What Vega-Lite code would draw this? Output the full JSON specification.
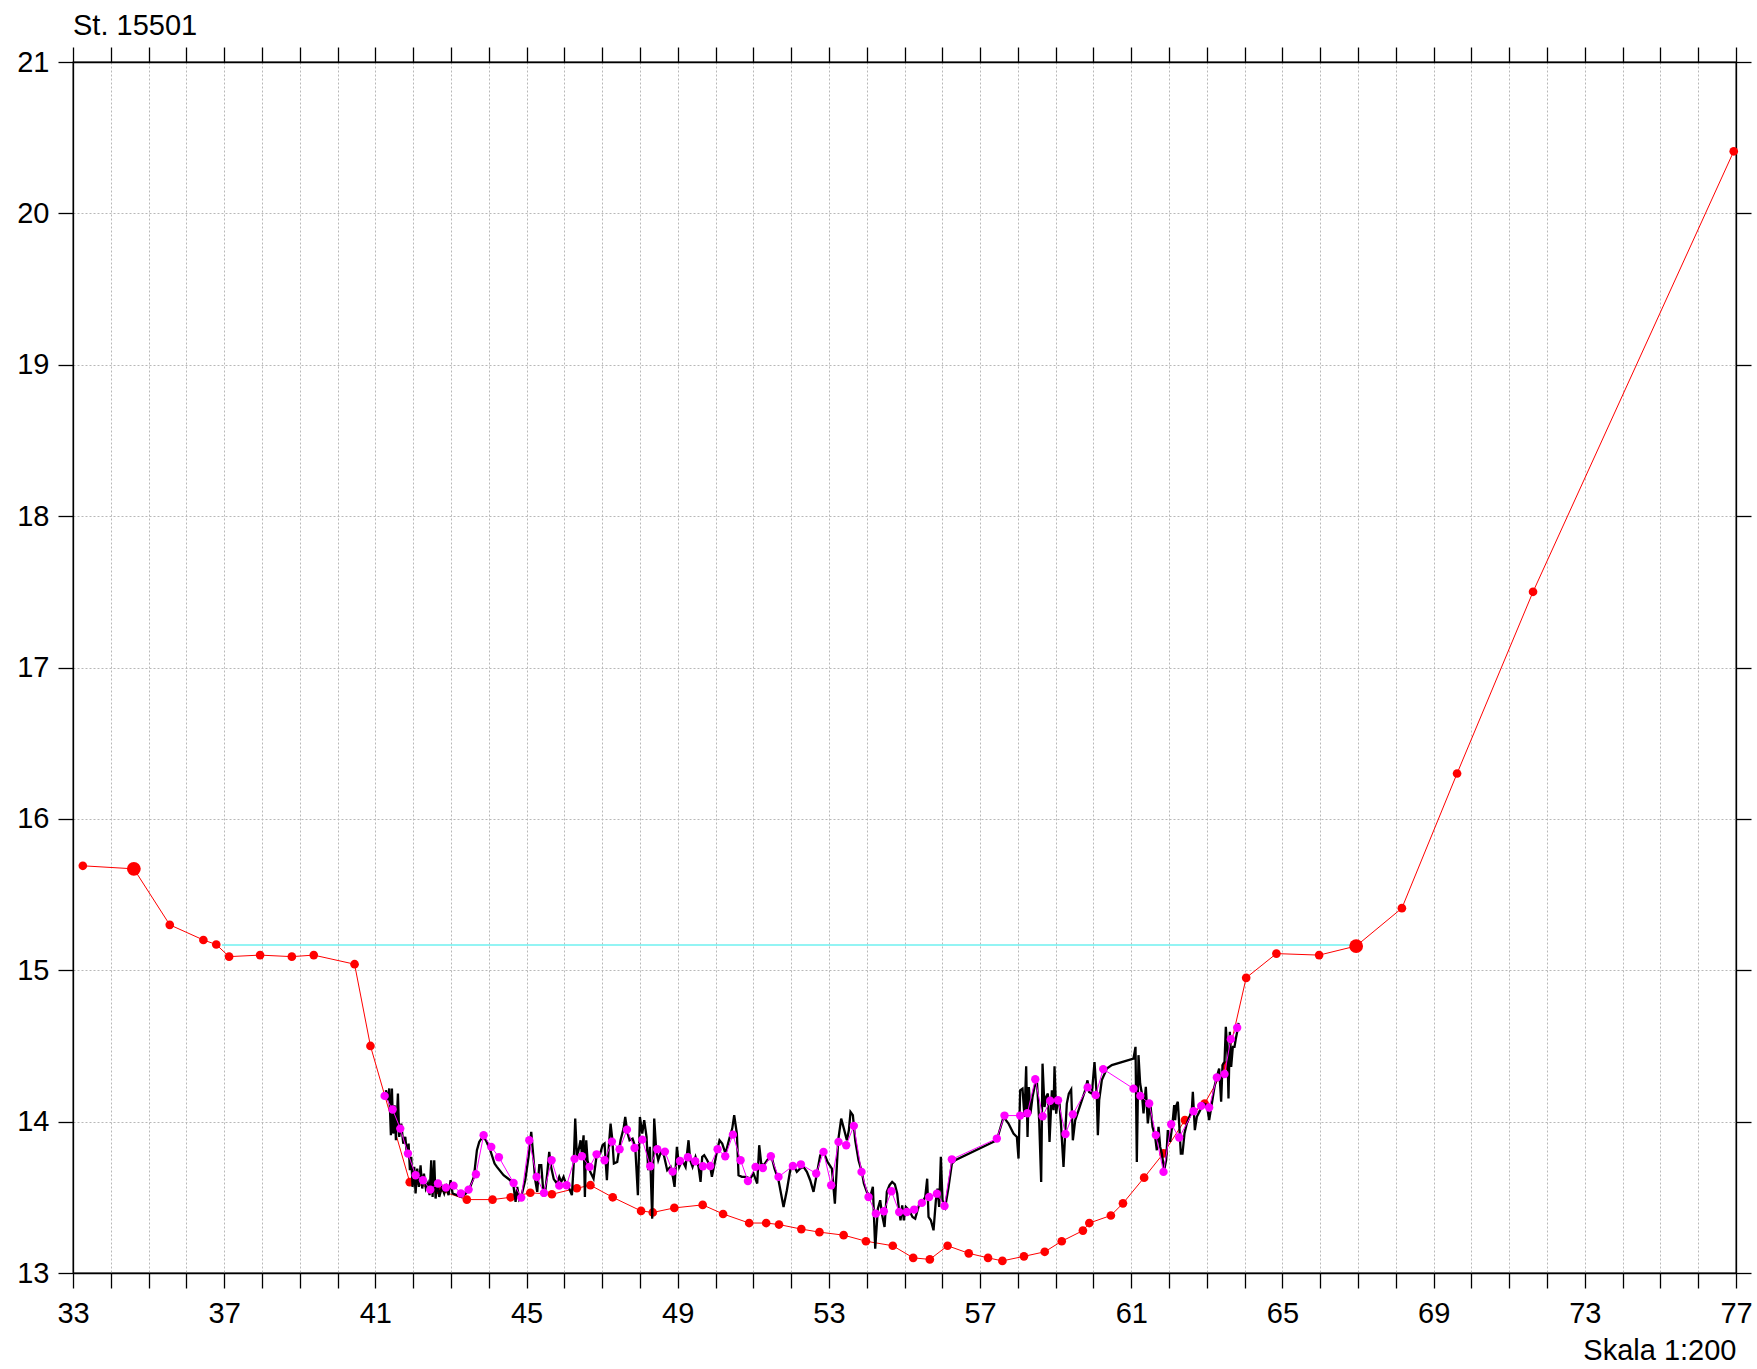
{
  "$schema": "https://vega.github.io/schema/vega-lite/v6.json",
  "width": 1663,
  "height": 1211,
  "autosize": "none",
  "padding": {"left": 73, "top": 62, "right": 21, "bottom": 96},
  "background": "white",
  "title": {"text": "St. 15501", "anchor": "start", "frame": "group", "font": "Liberation Sans", "fontSize": 29, "fontWeight": "normal", "color": "#000", "baseline": "alphabetic", "offset": -18},
  "config": {
    "view": {"stroke": "#000", "strokeWidth": 1.3},
    "axis": {"labelFont": "Liberation Sans", "labelFontSize": 29, "labelColor": "#000", "tickColor": "#000", "tickWidth": 1.3, "domainColor": "#000", "domainWidth": 1.3, "tickSize": 15}
  },
  "datasets": {
    "cyan": [{"x": 36.94, "y": 15.166}, {"x": 66.95, "y": 15.166}],
    "red": [
      {"x": 33.26, "y": 15.69}, {"x": 34.61, "y": 15.67}, {"x": 35.56, "y": 15.30}, {"x": 36.45, "y": 15.20}, {"x": 36.79, "y": 15.17},
      {"x": 37.13, "y": 15.09}, {"x": 37.95, "y": 15.10}, {"x": 38.79, "y": 15.09}, {"x": 39.37, "y": 15.10}, {"x": 40.45, "y": 15.04},
      {"x": 40.87, "y": 14.50}, {"x": 41.91, "y": 13.60}, {"x": 42.65, "y": 13.55}, {"x": 43.42, "y": 13.485}, {"x": 44.10, "y": 13.485},
      {"x": 44.58, "y": 13.50}, {"x": 45.10, "y": 13.53}, {"x": 45.67, "y": 13.52}, {"x": 46.33, "y": 13.56}, {"x": 46.69, "y": 13.58},
      {"x": 47.28, "y": 13.50}, {"x": 48.03, "y": 13.41}, {"x": 48.34, "y": 13.40}, {"x": 48.91, "y": 13.43}, {"x": 49.66, "y": 13.45},
      {"x": 50.20, "y": 13.39}, {"x": 50.89, "y": 13.33}, {"x": 51.34, "y": 13.33}, {"x": 51.68, "y": 13.32}, {"x": 52.27, "y": 13.29},
      {"x": 52.75, "y": 13.27}, {"x": 53.39, "y": 13.25}, {"x": 53.98, "y": 13.21}, {"x": 54.69, "y": 13.18}, {"x": 55.23, "y": 13.10},
      {"x": 55.67, "y": 13.09}, {"x": 56.14, "y": 13.18}, {"x": 56.70, "y": 13.13}, {"x": 57.21, "y": 13.10}, {"x": 57.59, "y": 13.08},
      {"x": 58.16, "y": 13.11}, {"x": 58.71, "y": 13.14}, {"x": 59.16, "y": 13.21}, {"x": 59.72, "y": 13.28}, {"x": 59.89, "y": 13.33},
      {"x": 60.46, "y": 13.38}, {"x": 60.78, "y": 13.46}, {"x": 61.34, "y": 13.63}, {"x": 61.85, "y": 13.79}, {"x": 62.42, "y": 14.01},
      {"x": 62.94, "y": 14.12}, {"x": 63.51, "y": 14.37}, {"x": 64.04, "y": 14.95}, {"x": 64.84, "y": 15.11}, {"x": 65.97, "y": 15.10},
      {"x": 66.95, "y": 15.16}, {"x": 68.16, "y": 15.41}, {"x": 69.62, "y": 16.30}, {"x": 71.63, "y": 17.50}, {"x": 76.94, "y": 20.41}
    ],
    "big": [{"x": 34.61, "y": 15.67}, {"x": 66.95, "y": 15.16}],
    "black": [
      {"x": 41.279, "y": 14.208}, {"x": 41.332, "y": 14.141}, {"x": 41.367, "y": 14.219}, {"x": 41.411, "y": 13.910}, {"x": 41.438, "y": 14.219},
      {"x": 41.473, "y": 13.921}, {"x": 41.508, "y": 14.108}, {"x": 41.544, "y": 13.877}, {"x": 41.597, "y": 14.185}, {"x": 41.632, "y": 13.899},
      {"x": 41.685, "y": 13.987}, {"x": 41.738, "y": 13.855}, {"x": 41.791, "y": 13.899}, {"x": 41.835, "y": 13.789}, {"x": 41.879, "y": 13.855},
      {"x": 41.914, "y": 13.679}, {"x": 41.949, "y": 13.767}, {"x": 41.985, "y": 13.569}, {"x": 42.029, "y": 13.701}, {"x": 42.064, "y": 13.525},
      {"x": 42.108, "y": 13.690}, {"x": 42.152, "y": 13.569}, {"x": 42.196, "y": 13.712}, {"x": 42.240, "y": 13.558}, {"x": 42.285, "y": 13.657},
      {"x": 42.337, "y": 13.558}, {"x": 42.390, "y": 13.591}, {"x": 42.434, "y": 13.514}, {"x": 42.478, "y": 13.745}, {"x": 42.514, "y": 13.503},
      {"x": 42.558, "y": 13.745}, {"x": 42.593, "y": 13.492}, {"x": 42.646, "y": 13.613}, {"x": 42.690, "y": 13.503}, {"x": 42.761, "y": 13.569},
      {"x": 42.822, "y": 13.525}, {"x": 42.875, "y": 13.569}, {"x": 42.937, "y": 13.514}, {"x": 42.990, "y": 13.613}, {"x": 43.043, "y": 13.525},
      {"x": 43.158, "y": 13.514}, {"x": 43.272, "y": 13.503}, {"x": 43.396, "y": 13.525}, {"x": 43.510, "y": 13.569}, {"x": 43.607, "y": 13.635},
      {"x": 43.687, "y": 13.811}, {"x": 43.748, "y": 13.866}, {"x": 43.837, "y": 13.899}, {"x": 43.925, "y": 13.877}, {"x": 44.039, "y": 13.811},
      {"x": 44.154, "y": 13.723}, {"x": 44.216, "y": 13.701}, {"x": 44.392, "y": 13.646}, {"x": 44.568, "y": 13.613}, {"x": 44.657, "y": 13.569},
      {"x": 44.710, "y": 13.470}, {"x": 44.754, "y": 13.569}, {"x": 44.807, "y": 13.485}, {"x": 44.859, "y": 13.503}, {"x": 44.965, "y": 13.613},
      {"x": 45.053, "y": 13.767}, {"x": 45.124, "y": 13.932}, {"x": 45.177, "y": 13.778}, {"x": 45.230, "y": 13.613}, {"x": 45.283, "y": 13.536},
      {"x": 45.336, "y": 13.712}, {"x": 45.389, "y": 13.712}, {"x": 45.441, "y": 13.547}, {"x": 45.494, "y": 13.536}, {"x": 45.547, "y": 13.657},
      {"x": 45.600, "y": 13.800}, {"x": 45.650, "y": 13.700}, {"x": 45.720, "y": 13.620},
      {"x": 45.803, "y": 13.591}, {"x": 45.865, "y": 13.635}, {"x": 45.918, "y": 13.602}, {"x": 45.979, "y": 13.635}, {"x": 46.041, "y": 13.591},
      {"x": 46.129, "y": 13.558}, {"x": 46.200, "y": 13.514}, {"x": 46.244, "y": 13.701}, {"x": 46.288, "y": 14.020}, {"x": 46.332, "y": 13.767},
      {"x": 46.376, "y": 13.811}, {"x": 46.429, "y": 13.877}, {"x": 46.464, "y": 13.789}, {"x": 46.509, "y": 13.910}, {"x": 46.544, "y": 13.503},
      {"x": 46.579, "y": 13.877}, {"x": 46.614, "y": 13.745}, {"x": 46.685, "y": 13.668}, {"x": 46.773, "y": 13.624}, {"x": 46.861, "y": 13.789},
      {"x": 46.949, "y": 13.789}, {"x": 47.011, "y": 13.844}, {"x": 47.064, "y": 13.855}, {"x": 47.126, "y": 13.613}, {"x": 47.170, "y": 13.811},
      {"x": 47.223, "y": 13.987}, {"x": 47.267, "y": 13.888}, {"x": 47.311, "y": 13.723}, {"x": 47.399, "y": 13.734}, {"x": 47.487, "y": 13.877},
      {"x": 47.567, "y": 13.954}, {"x": 47.611, "y": 14.031}, {"x": 47.664, "y": 13.932}, {"x": 47.726, "y": 13.877}, {"x": 47.805, "y": 13.888},
      {"x": 47.876, "y": 13.833}, {"x": 47.946, "y": 13.514}, {"x": 47.999, "y": 14.031}, {"x": 48.061, "y": 13.921}, {"x": 48.113, "y": 14.009},
      {"x": 48.175, "y": 13.899}, {"x": 48.219, "y": 13.679}, {"x": 48.263, "y": 13.833}, {"x": 48.325, "y": 13.359}, {"x": 48.378, "y": 14.020},
      {"x": 48.431, "y": 13.811}, {"x": 48.484, "y": 13.745}, {"x": 48.554, "y": 13.800}, {"x": 48.634, "y": 13.778}, {"x": 48.722, "y": 13.679},
      {"x": 48.810, "y": 13.701}, {"x": 48.872, "y": 13.635}, {"x": 48.916, "y": 13.569}, {"x": 48.978, "y": 13.833}, {"x": 49.039, "y": 13.701},
      {"x": 49.119, "y": 13.745}, {"x": 49.207, "y": 13.701}, {"x": 49.286, "y": 13.877}, {"x": 49.330, "y": 13.745}, {"x": 49.392, "y": 13.701},
      {"x": 49.471, "y": 13.767}, {"x": 49.551, "y": 13.701}, {"x": 49.604, "y": 13.602}, {"x": 49.648, "y": 13.767}, {"x": 49.701, "y": 13.778},
      {"x": 49.780, "y": 13.745}, {"x": 49.860, "y": 13.701}, {"x": 49.904, "y": 13.635}, {"x": 49.957, "y": 13.701}, {"x": 50.045, "y": 13.811},
      {"x": 50.106, "y": 13.877}, {"x": 50.177, "y": 13.855}, {"x": 50.265, "y": 13.789}, {"x": 50.353, "y": 13.877}, {"x": 50.442, "y": 13.954},
      {"x": 50.494, "y": 14.042},
      {"x": 50.565, "y": 13.921}, {"x": 50.609, "y": 13.646}, {"x": 50.697, "y": 13.635}, {"x": 50.803, "y": 13.635}, {"x": 50.918, "y": 13.624},
      {"x": 51.006, "y": 13.657}, {"x": 51.103, "y": 13.591}, {"x": 51.156, "y": 13.844}, {"x": 51.209, "y": 13.723}, {"x": 51.279, "y": 13.712},
      {"x": 51.368, "y": 13.745}, {"x": 51.473, "y": 13.778}, {"x": 51.562, "y": 13.690}, {"x": 51.667, "y": 13.613}, {"x": 51.800, "y": 13.436},
      {"x": 51.888, "y": 13.547}, {"x": 51.976, "y": 13.679}, {"x": 52.064, "y": 13.712}, {"x": 52.152, "y": 13.668}, {"x": 52.241, "y": 13.690},
      {"x": 52.329, "y": 13.701}, {"x": 52.417, "y": 13.668}, {"x": 52.505, "y": 13.613}, {"x": 52.593, "y": 13.536}, {"x": 52.682, "y": 13.657},
      {"x": 52.770, "y": 13.778}, {"x": 52.858, "y": 13.800}, {"x": 52.964, "y": 13.734}, {"x": 53.079, "y": 13.690}, {"x": 53.158, "y": 13.458},
      {"x": 53.246, "y": 13.877}, {"x": 53.325, "y": 14.020}, {"x": 53.396, "y": 13.954}, {"x": 53.475, "y": 13.877}, {"x": 53.528, "y": 13.943},
      {"x": 53.572, "y": 14.064}, {"x": 53.634, "y": 14.042}, {"x": 53.696, "y": 13.877}, {"x": 53.784, "y": 13.745}, {"x": 53.872, "y": 13.668},
      {"x": 53.925, "y": 13.591}, {"x": 54.004, "y": 13.536}, {"x": 54.093, "y": 13.503}, {"x": 54.163, "y": 13.569}, {"x": 54.225, "y": 13.161},
      {"x": 54.295, "y": 13.425}, {"x": 54.357, "y": 13.481}, {"x": 54.410, "y": 13.381}, {"x": 54.472, "y": 13.304}, {"x": 54.533, "y": 13.536},
      {"x": 54.604, "y": 13.580}, {"x": 54.674, "y": 13.602}, {"x": 54.745, "y": 13.586}, {"x": 54.807, "y": 13.525}, {"x": 54.851, "y": 13.425},
      {"x": 54.895, "y": 13.348}, {"x": 54.939, "y": 13.447}, {"x": 54.983, "y": 13.348}, {"x": 55.036, "y": 13.436}, {"x": 55.124, "y": 13.414},
      {"x": 55.212, "y": 13.370}, {"x": 55.283, "y": 13.359},
      {"x": 55.389, "y": 13.454}, {"x": 55.477, "y": 13.469}, {"x": 55.548, "y": 13.502}, {"x": 55.600, "y": 13.623}, {"x": 55.636, "y": 13.370},
      {"x": 55.697, "y": 13.348}, {"x": 55.768, "y": 13.282}, {"x": 55.830, "y": 13.480}, {"x": 55.874, "y": 13.557}, {"x": 55.918, "y": 13.436},
      {"x": 55.962, "y": 13.767}, {"x": 56.006, "y": 13.480}, {"x": 56.077, "y": 13.436}, {"x": 56.165, "y": 13.568}, {"x": 56.253, "y": 13.722},
      {"x": 56.341, "y": 13.745}, {"x": 57.443, "y": 13.877}, {"x": 57.620, "y": 14.031}, {"x": 57.752, "y": 13.987}, {"x": 57.884, "y": 13.921},
      {"x": 57.973, "y": 13.899}, {"x": 58.017, "y": 13.756}, {"x": 58.061, "y": 14.207}, {"x": 58.122, "y": 14.218}, {"x": 58.175, "y": 14.031},
      {"x": 58.219, "y": 14.366}, {"x": 58.255, "y": 13.899}, {"x": 58.290, "y": 14.229}, {"x": 58.334, "y": 14.053}, {"x": 58.387, "y": 14.163},
      {"x": 58.440, "y": 14.229}, {"x": 58.502, "y": 14.273}, {"x": 58.563, "y": 14.009}, {"x": 58.616, "y": 13.601}, {"x": 58.652, "y": 14.383},
      {"x": 58.704, "y": 14.097}, {"x": 58.749, "y": 14.163}, {"x": 58.793, "y": 14.185}, {"x": 58.837, "y": 13.866}, {"x": 58.899, "y": 14.207},
      {"x": 58.943, "y": 14.075}, {"x": 58.969, "y": 14.366}, {"x": 59.013, "y": 14.053}, {"x": 59.057, "y": 14.141}, {"x": 59.101, "y": 14.119},
      {"x": 59.145, "y": 13.965}, {"x": 59.207, "y": 13.700}, {"x": 59.251, "y": 13.921}, {"x": 59.295, "y": 14.119}, {"x": 59.348, "y": 14.185},
      {"x": 59.410, "y": 14.212}, {"x": 59.454, "y": 13.877}, {"x": 59.516, "y": 14.009}, {"x": 59.604, "y": 14.075}, {"x": 59.692, "y": 14.141},
      {"x": 59.780, "y": 14.207}, {"x": 59.842, "y": 14.273}, {"x": 59.886, "y": 14.196}, {"x": 59.957, "y": 14.185}, {"x": 60.027, "y": 14.394},
      {"x": 60.089, "y": 14.164}, {"x": 60.116, "y": 13.911}, {"x": 60.151, "y": 14.142}, {"x": 60.221, "y": 14.274}, {"x": 60.354, "y": 14.351},
      {"x": 60.486, "y": 14.373}, {"x": 61.059, "y": 14.417}, {"x": 61.112, "y": 14.494}, {"x": 61.147, "y": 13.734}, {"x": 61.191, "y": 14.439},
      {"x": 61.235, "y": 14.252}, {"x": 61.280, "y": 14.186}, {"x": 61.324, "y": 14.054}, {"x": 61.385, "y": 14.230}, {"x": 61.438, "y": 13.988},
      {"x": 61.500, "y": 14.131}, {"x": 61.562, "y": 13.966}, {"x": 61.632, "y": 13.900}, {"x": 61.676, "y": 13.811}, {"x": 61.721, "y": 13.966},
      {"x": 61.765, "y": 13.833}, {"x": 61.809, "y": 13.789}, {"x": 61.870, "y": 13.679}, {"x": 61.923, "y": 13.745}, {"x": 61.967, "y": 13.944},
      {"x": 62.029, "y": 13.867}, {"x": 62.091, "y": 13.988}, {"x": 62.135, "y": 14.109}, {"x": 62.161, "y": 14.010}, {"x": 62.197, "y": 14.109},
      {"x": 62.232, "y": 14.131}, {"x": 62.267, "y": 13.988}, {"x": 62.311, "y": 13.789}, {"x": 62.355, "y": 13.789}, {"x": 62.408, "y": 13.922},
      {"x": 62.470, "y": 13.988}, {"x": 62.541, "y": 14.032}, {"x": 62.602, "y": 14.076}, {"x": 62.629, "y": 14.197}, {"x": 62.682, "y": 13.944},
      {"x": 62.735, "y": 14.032}, {"x": 62.823, "y": 14.076}, {"x": 62.911, "y": 14.120}, {"x": 63.000, "y": 14.109}, {"x": 63.061, "y": 14.010},
      {"x": 63.132, "y": 14.120}, {"x": 63.202, "y": 14.230}, {"x": 63.264, "y": 14.296}, {"x": 63.325, "y": 14.351}, {"x": 63.378, "y": 14.131},
      {"x": 63.414, "y": 14.373}, {"x": 63.467, "y": 14.395}, {"x": 63.502, "y": 14.627}, {"x": 63.546, "y": 14.439}, {"x": 63.572, "y": 14.153},
      {"x": 63.608, "y": 14.594}, {"x": 63.643, "y": 14.362}, {"x": 63.687, "y": 14.494}, {"x": 63.731, "y": 14.494}, {"x": 63.767, "y": 14.549},
      {"x": 63.820, "y": 14.616}, {"x": 63.837, "y": 14.653}
    ],
    "mag": [
      {"x": 41.245, "y": 14.170}, {"x": 41.456, "y": 14.080}, {"x": 41.659, "y": 13.954}, {"x": 41.862, "y": 13.789}, {"x": 42.065, "y": 13.646},
      {"x": 42.259, "y": 13.613}, {"x": 42.453, "y": 13.551}, {"x": 42.656, "y": 13.591}, {"x": 42.867, "y": 13.564}, {"x": 43.070, "y": 13.577},
      {"x": 43.264, "y": 13.525}, {"x": 43.467, "y": 13.551}, {"x": 43.661, "y": 13.652}, {"x": 43.864, "y": 13.910}, {"x": 44.067, "y": 13.833},
      {"x": 44.269, "y": 13.765}, {"x": 44.657, "y": 13.595}, {"x": 44.860, "y": 13.498}, {"x": 45.072, "y": 13.877}, {"x": 45.266, "y": 13.635},
      {"x": 45.460, "y": 13.529}, {"x": 45.663, "y": 13.745}, {"x": 45.866, "y": 13.577}, {"x": 46.060, "y": 13.580}, {"x": 46.271, "y": 13.754},
      {"x": 46.465, "y": 13.771}, {"x": 46.668, "y": 13.701}, {"x": 46.853, "y": 13.784}, {"x": 47.065, "y": 13.745}, {"x": 47.259, "y": 13.868},
      {"x": 47.462, "y": 13.818}, {"x": 47.656, "y": 13.947}, {"x": 47.858, "y": 13.826}, {"x": 48.061, "y": 13.881}, {"x": 48.273, "y": 13.705},
      {"x": 48.458, "y": 13.818}, {"x": 48.661, "y": 13.802}, {"x": 48.864, "y": 13.670}, {"x": 49.058, "y": 13.740}, {"x": 49.269, "y": 13.765},
      {"x": 49.463, "y": 13.738}, {"x": 49.666, "y": 13.705}, {"x": 49.860, "y": 13.707}, {"x": 50.054, "y": 13.818}, {"x": 50.257, "y": 13.771},
      {"x": 50.460, "y": 13.914}, {"x": 50.663, "y": 13.745}, {"x": 50.857, "y": 13.608}, {"x": 51.060, "y": 13.701}, {"x": 51.253, "y": 13.694},
      {"x": 51.464, "y": 13.771}, {"x": 51.667, "y": 13.635}, {"x": 52.046, "y": 13.707}, {"x": 52.258, "y": 13.718}, {"x": 52.664, "y": 13.657},
      {"x": 52.857, "y": 13.800}, {"x": 53.060, "y": 13.580}, {"x": 53.254, "y": 13.866}, {"x": 53.457, "y": 13.844}, {"x": 53.660, "y": 13.972},
      {"x": 53.863, "y": 13.668}, {"x": 54.048, "y": 13.502}, {"x": 54.242, "y": 13.392}, {"x": 54.454, "y": 13.408}, {"x": 54.656, "y": 13.540},
      {"x": 54.859, "y": 13.403}, {"x": 55.062, "y": 13.403}, {"x": 55.256, "y": 13.419}, {"x": 55.459, "y": 13.463}, {"x": 55.653, "y": 13.502},
      {"x": 55.856, "y": 13.524}, {"x": 56.059, "y": 13.443}, {"x": 56.253, "y": 13.751}, {"x": 57.443, "y": 13.888}, {"x": 57.646, "y": 14.040},
      {"x": 58.060, "y": 14.040}, {"x": 58.250, "y": 14.055}, {"x": 58.460, "y": 14.280}, {"x": 58.655, "y": 14.035}, {"x": 58.854, "y": 14.138},
      {"x": 59.062, "y": 14.141}, {"x": 59.260, "y": 13.918}, {"x": 59.454, "y": 14.048}, {"x": 59.846, "y": 14.226}, {"x": 60.058, "y": 14.175},
      {"x": 60.257, "y": 14.347}, {"x": 61.059, "y": 14.218}, {"x": 61.240, "y": 14.170}, {"x": 61.474, "y": 14.120}, {"x": 61.650, "y": 13.911},
      {"x": 61.853, "y": 13.668}, {"x": 62.056, "y": 13.983}, {"x": 62.268, "y": 13.895}, {"x": 62.647, "y": 14.069}, {"x": 62.850, "y": 14.104},
      {"x": 63.061, "y": 14.093}, {"x": 63.264, "y": 14.292}, {"x": 63.467, "y": 14.314}, {"x": 63.634, "y": 14.545}, {"x": 63.802, "y": 14.620}
    ]
  },
  "layer": [
    {
      "data": {"name": "cyan"},
      "mark": {"type": "line", "color": "#6FF0F0", "strokeWidth": 1.5},
      "encoding": {
        "x": {"field": "x", "type": "quantitative", "scale": {"domain": [33, 77], "nice": false, "zero": false},
          "axis": {"orient": "bottom", "values": [33,34,35,36,37,38,39,40,41,42,43,44,45,46,47,48,49,50,51,52,53,54,55,56,57,58,59,60,61,62,63,64,65,66,67,68,69,70,71,72,73,74,75,76,77],
            "labelExpr": "(datum.value - 33) % 4 == 0 ? datum.label : ''", "labelFlush": false, "labelOverlap": false,
            "grid": true, "gridColor": "#b8b8b8", "gridDash": [2, 2], "gridWidth": 1, "labelPadding": 11,
            "title": "Skala 1:200", "titleAnchor": "end", "titleAlign": "right", "titlePadding": 8, "titleFontSize": 29, "titleFontWeight": "normal", "titleFont": "Liberation Sans", "titleColor": "#000"}},
        "y": {"field": "y", "type": "quantitative", "scale": {"domain": [13, 21], "nice": false, "zero": false},
          "axis": {"orient": "left", "values": [13,14,15,16,17,18,19,20,21], "labelFlush": false, "labelOverlap": false, "grid": true, "gridColor": "#b8b8b8", "gridDash": [2, 2], "gridWidth": 1, "labelPadding": 9, "title": null}}
      }
    },
    {
      "data": {"name": "red"},
      "mark": {"type": "line", "color": "#ff0000", "strokeWidth": 1},
      "encoding": {
        "x": {"field": "x", "type": "quantitative", "scale": {"domain": [33, 77], "nice": false, "zero": false},
          "axis": {"orient": "top", "values": [33,34,35,36,37,38,39,40,41,42,43,44,45,46,47,48,49,50,51,52,53,54,55,56,57,58,59,60,61,62,63,64,65,66,67,68,69,70,71,72,73,74,75,76,77], "labels": false, "grid": false, "title": null}},
        "y": {"field": "y", "type": "quantitative", "scale": {"domain": [13, 21], "nice": false, "zero": false},
          "axis": {"orient": "right", "values": [13,14,15,16,17,18,19,20,21], "labels": false, "grid": false, "title": null}}
      }
    },
    {
      "data": {"name": "red"},
      "mark": {"type": "point", "filled": true, "color": "#ff0000", "opacity": 1, "size": 75},
      "encoding": {
        "x": {"field": "x", "type": "quantitative", "scale": {"domain": [33, 77], "nice": false, "zero": false}, "axis": null},
        "y": {"field": "y", "type": "quantitative", "scale": {"domain": [13, 21], "nice": false, "zero": false}, "axis": null}
      }
    },
    {
      "data": {"name": "big"},
      "mark": {"type": "point", "filled": true, "color": "#ff0000", "opacity": 1, "size": 190},
      "encoding": {
        "x": {"field": "x", "type": "quantitative", "scale": {"domain": [33, 77], "nice": false, "zero": false}, "axis": null},
        "y": {"field": "y", "type": "quantitative", "scale": {"domain": [13, 21], "nice": false, "zero": false}, "axis": null}
      }
    },
    {
      "data": {"name": "black"},
      "mark": {"type": "line", "color": "#000000", "strokeWidth": 2.3, "strokeJoin": "miter"},
      "encoding": {
        "x": {"field": "x", "type": "quantitative", "scale": {"domain": [33, 77], "nice": false, "zero": false}, "axis": null},
        "y": {"field": "y", "type": "quantitative", "scale": {"domain": [13, 21], "nice": false, "zero": false}, "axis": null}
      }
    },
    {
      "data": {"name": "mag"},
      "mark": {"type": "line", "color": "#ff00ff", "strokeWidth": 1},
      "encoding": {
        "x": {"field": "x", "type": "quantitative", "scale": {"domain": [33, 77], "nice": false, "zero": false}, "axis": null},
        "y": {"field": "y", "type": "quantitative", "scale": {"domain": [13, 21], "nice": false, "zero": false}, "axis": null}
      }
    },
    {
      "data": {"name": "mag"},
      "mark": {"type": "point", "filled": true, "color": "#ff00ff", "opacity": 1, "size": 70},
      "encoding": {
        "x": {"field": "x", "type": "quantitative", "scale": {"domain": [33, 77], "nice": false, "zero": false}, "axis": null},
        "y": {"field": "y", "type": "quantitative", "scale": {"domain": [13, 21], "nice": false, "zero": false}, "axis": null}
      }
    }
  ],
  "resolve": {"axis": {"x": "independent", "y": "independent"}}
}
